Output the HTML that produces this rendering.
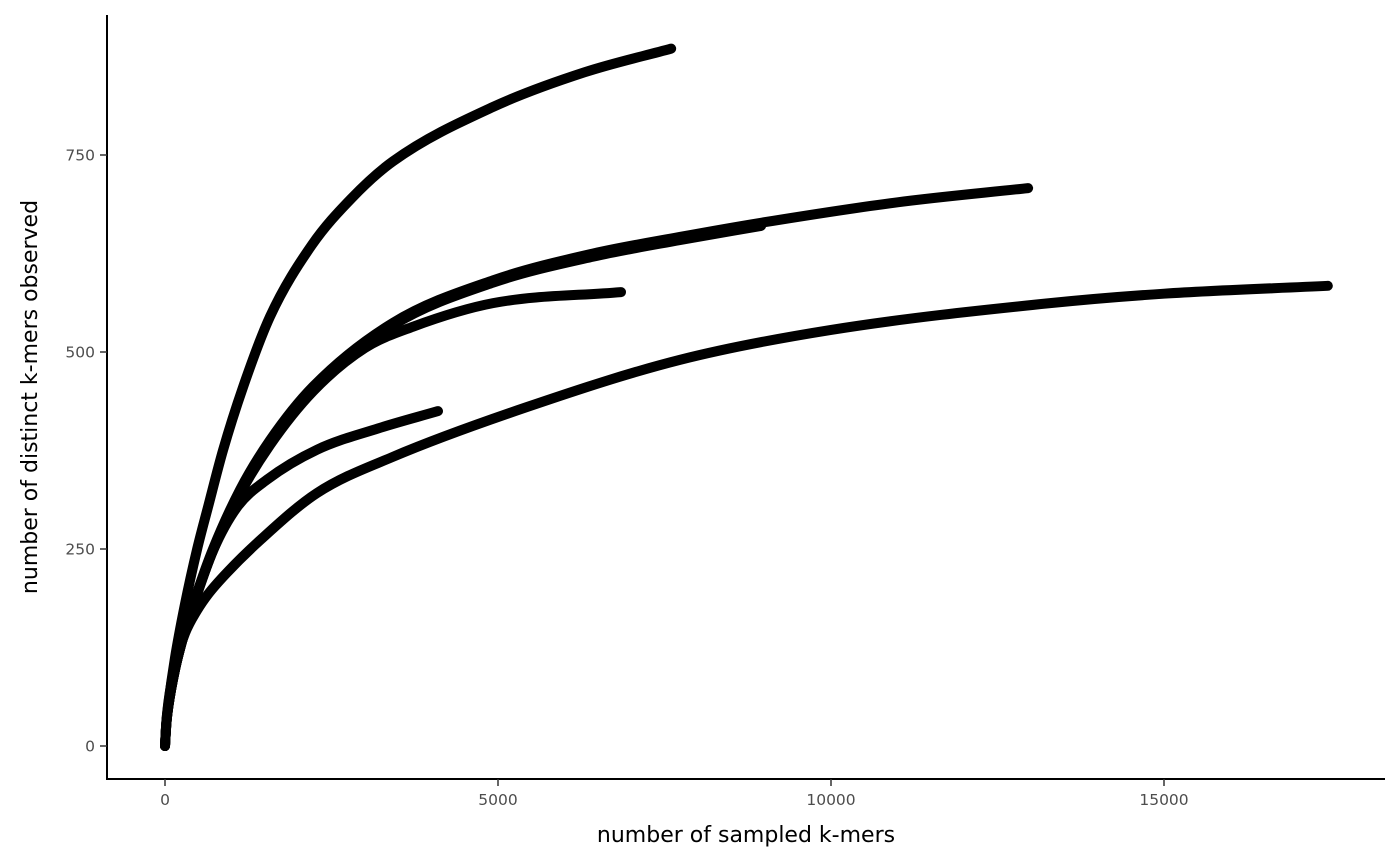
<!DOCTYPE html>
<html><head><meta charset="utf-8"><style>
html,body{margin:0;padding:0;background:#fff;}
svg{display:block;font-family:"DejaVu Sans","Liberation Sans",sans-serif;}
</style></head><body>
<svg id="chart" width="1400" height="865" viewBox="0 0 1400 865">
<g id="marks"></g>
<g id="axes"></g>
</svg>
<script>
const xTicks = [0, 5000, 10000, 15000];
const yTicks = [0, 250, 500, 750];
const curveA_x = [0,20,50,150,300,480,645,870,1170,1577,2207,2800,3423,4925,6300,7600];
const curveA_y = [0,30,53,112,180,249,303,375,455,545,636,695,742,811,855,885];
const curveB1_x = [0,20,50,150,300,496,721,1126,1577,2222,3423,4925,6430,7730,8950,11000,12960];
const curveB1_y = [0,28,50,97,146,198,250,325,388,456,537,591,625,646,664,690,708];
const curveB2_x = [0,20,50,150,300,496,721,1126,1577,2222,3423,4925,6430,7730,8950];
const curveB2_y = [0,28,50,97,146,197,248,322,385,453,534,588,621,642,660];
const curveB3_x = [0,20,50,150,300,496,721,1126,1577,2222,3000,3720,4925,6847];
const curveB3_y = [0,28,50,97,146,197,248,320,382,450,505,532,562,576];
const curveC_x = [0,20,50,150,300,496,721,1081,1532,2282,3200,4099];
const curveC_y = [0,28,50,97,146,196,248,303,338,376,403,425];
const curveD_x = [0,20,50,150,300,480,650,930,1426,2282,3423,5430,7730,10000,13290,15000,17460];
const curveD_y = [0,30,55,103,143,172,193,220,261,321,367,430,490,528,562,574,584];

const X = v => 165 + v * (333/5000);
const Y = v => 746 - v * (197/250);
const NS = "http://www.w3.org/2000/svg";

function path(xs, ys){
  const px = xs.map(X), py = ys.map(Y), n = px.length;
  const d = [], m = [];
  for(let i=0;i<n-1;i++) d.push((py[i+1]-py[i])/(px[i+1]-px[i]));
  m[0]=d[0]; m[n-1]=d[n-2];
  for(let i=1;i<n-1;i++) m[i] = (d[i-1]*d[i]<=0)?0:(d[i-1]+d[i])/2;
  for(let i=0;i<n-1;i++){
    if(d[i]===0){m[i]=0;m[i+1]=0;continue;}
    const a=m[i]/d[i], b=m[i+1]/d[i], s=a*a+b*b;
    if(s>9){const t=3/Math.sqrt(s);m[i]=t*a*d[i];m[i+1]=t*b*d[i];}
  }
  let s = "M"+px[0]+","+py[0];
  for(let i=0;i<n-1;i++){
    const h=(px[i+1]-px[i])/3;
    s+=" C"+(px[i]+h)+","+(py[i]+m[i]*h)+" "+(px[i+1]-h)+","+(py[i+1]-m[i+1]*h)+" "+px[i+1]+","+py[i+1];
  }
  return s;
}
const marks = document.getElementById("marks");
const curves = [["curve-a",curveA_x,curveA_y],["curve-b1",curveB1_x,curveB1_y],["curve-b2",curveB2_x,curveB2_y],["curve-b3",curveB3_x,curveB3_y],["curve-c",curveC_x,curveC_y],["curve-d",curveD_x,curveD_y]];
curves.forEach(c=>{
  const el=document.createElementNS(NS,"path");
  el.setAttribute("d",path(c[1],c[2]));
  el.setAttribute("fill","none");el.setAttribute("stroke","#000");
  el.setAttribute("stroke-width","10");el.setAttribute("stroke-linecap","round");el.setAttribute("stroke-linejoin","round");
  
  
  marks.appendChild(el);
});
const axes=document.getElementById("axes");
function add(tag,attrs,text,name){
  const el=document.createElementNS(NS,tag);
  for(const k in attrs) el.setAttribute(k,attrs[k]);
  if(text!==undefined) el.textContent=text;
  
  
  axes.appendChild(el); return el;
}
add("line",{x1:107,y1:15,x2:107,y2:780,stroke:"#000","stroke-width":2},undefined,"y-axis-line");
add("line",{x1:106,y1:779,x2:1385,y2:779,stroke:"#000","stroke-width":2},undefined,"x-axis-line");
xTicks.forEach(t=>{
  add("line",{x1:X(t),y1:779,x2:X(t),y2:786,stroke:"#333","stroke-width":1.5},undefined,"x-tick");
  add("text",{x:X(t),y:805,"text-anchor":"middle","font-size":15.5,fill:"#4d4d4d"},String(t),"x-tick-label");
});
yTicks.forEach(t=>{
  add("line",{x1:100,y1:Y(t),x2:107,y2:Y(t),stroke:"#333","stroke-width":1.5},undefined,"y-tick");
  add("text",{x:95,y:Y(t)+5.5,"text-anchor":"end","font-size":15.5,fill:"#4d4d4d"},String(t),"y-tick-label");
});
add("text",{x:746,y:842,"text-anchor":"middle","font-size":22,fill:"#000"},"number of sampled k-mers","x-axis-title");
add("text",{x:0,y:0,"text-anchor":"middle","font-size":22,fill:"#000",transform:"translate(37,397) rotate(-90)"},"number of distinct k-mers observed","y-axis-title");
</script>
</body></html>
